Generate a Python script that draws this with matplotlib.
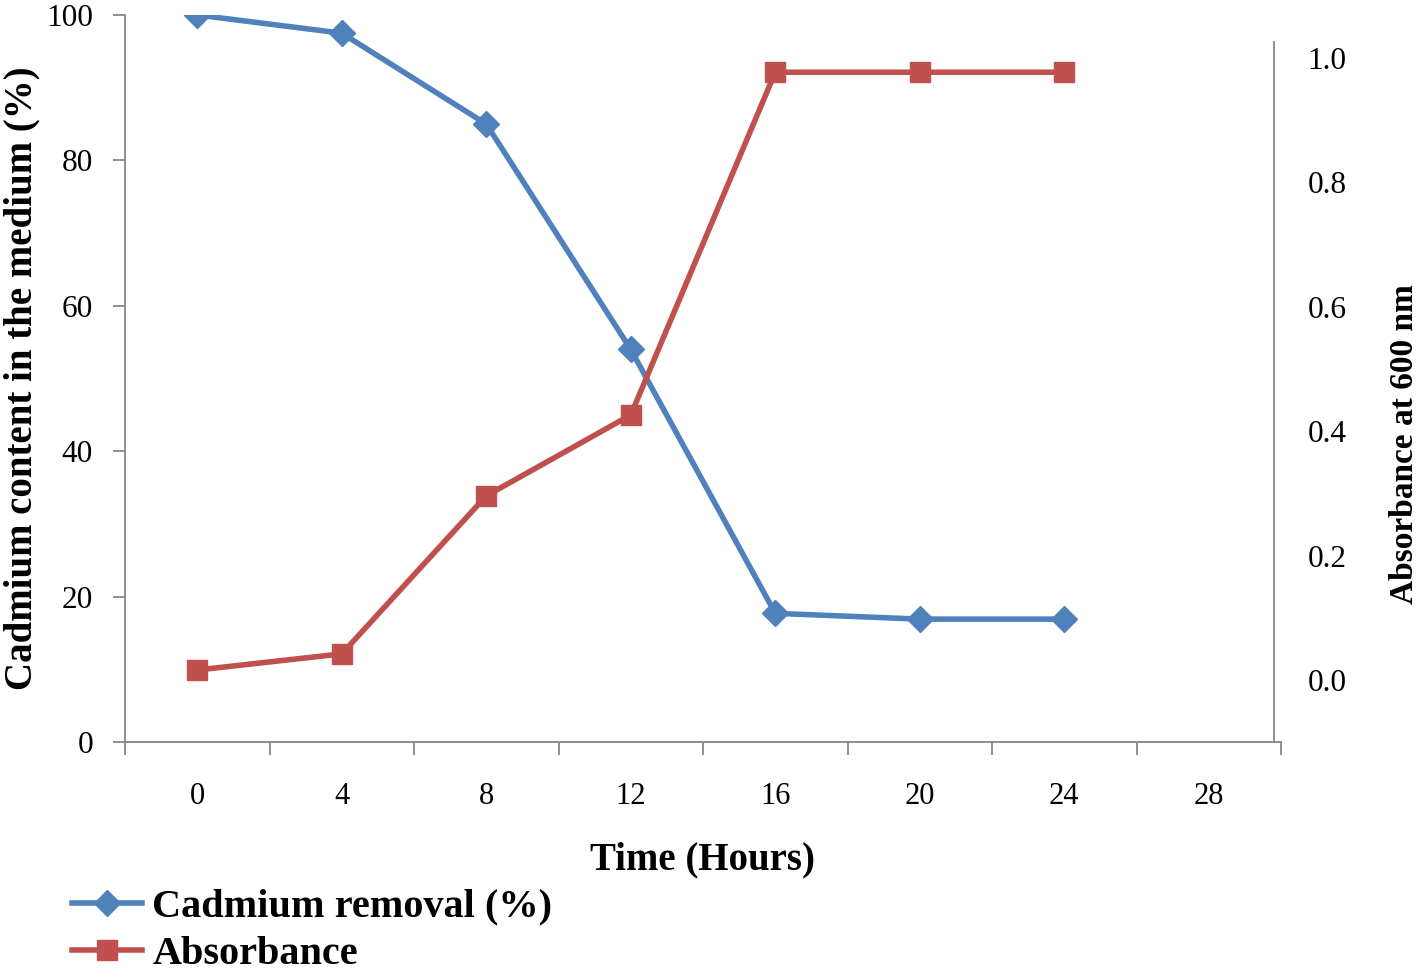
import numpy as np
import matplotlib
matplotlib.use("Agg")
import matplotlib.pyplot as plt

plt.rcParams['font.family'] = ['Liberation Serif', 'DejaVu Serif']

hours = [0, 4, 8, 12, 16, 20, 24]
tick_hours = [0, 4, 8, 12, 16, 20, 24, 28]
cadmium = [100, 97.5, 85, 54, 17.7, 16.9, 16.9]
absorbance = [0.016, 0.042, 0.296, 0.426, 0.977, 0.977, 0.977]

blue = "#4F81BD"
red = "#C0504D"
axis_grey = "#868686"

fig = plt.figure(figsize=(14.18, 9.8), dpi=100)
ax = fig.add_axes([125 / 1418, 1 - 742 / 980, (1281 - 125) / 1418, (742 - 15) / 980])
ax2 = ax.twinx()

ax.plot(hours, cadmium, color=blue, lw=4, marker="D", ms=13,
        label="Cadmium removal (%)", zorder=3)
ax2.plot(hours, absorbance, color=red, lw=4, marker="s", ms=15,
         label="Absorbance", zorder=3)

# x axis: category style, ticks sit between categories
ax.set_xlim(-2, 30)
ax.set_xticks(np.arange(-2, 31, 4))
ax.set_xticklabels([])
ax.set_xticks(tick_hours, minor=True)
ax.set_xticklabels([str(h) for h in tick_hours], minor=True)
ax.tick_params(axis="x", which="major", direction="out", length=9, width=1.3,
               color=axis_grey)
ax.tick_params(axis="x", which="minor", length=0, pad=29, labelsize=22)

ax.set_ylim(0, 100)
ax.set_yticks(np.arange(0, 101, 20))
ax.tick_params(axis="y", direction="out", length=9, width=1.3, color=axis_grey,
               pad=14, labelsize=22.5)

ax2.set_ylim(-0.0997, 1.069)
ax2.set_yticks(np.arange(0, 1.01, 0.2))
ax2.set_yticklabels(["%.1f" % v for v in np.arange(0, 1.01, 0.2)])
ax2.tick_params(axis="y", length=0, pad=24, labelsize=22.5)

for a in (ax, ax2):
    a.spines["top"].set_visible(False)
    for s in a.spines.values():
        s.set_color(axis_grey)
        s.set_linewidth(1.3)
ax.spines["right"].set_visible(False)
ax2.spines["left"].set_visible(False)
ax2.spines["bottom"].set_visible(False)
ax2.spines["right"].set_bounds(-0.0997, 1.026)
ax2.spines["right"].set_position(("axes", 0.994))

ax.set_xlabel("Time (Hours)", fontsize=28, fontweight="bold", labelpad=22)
ax.set_ylabel("Cadmium content in the medium (%)", fontsize=28, fontweight="bold")
ax.yaxis.set_label_coords(-0.073, 0.5)
ax2.set_ylabel("Absorbance at 600 nm", fontsize=24, fontweight="bold")
ax2.yaxis.set_label_coords(1.093, 0.41)

h1, l1 = ax.get_legend_handles_labels()
h2, l2 = ax2.get_legend_handles_labels()
fig.legend(h1 + h2, l1 + l2, loc="lower left", bbox_to_anchor=(0.025, -0.03),
           frameon=False, prop={"size": 29, "weight": "bold"},
           handlelength=1.75, handletextpad=0.25, labelspacing=0.25)

fig.savefig("out.png", dpi=100)
